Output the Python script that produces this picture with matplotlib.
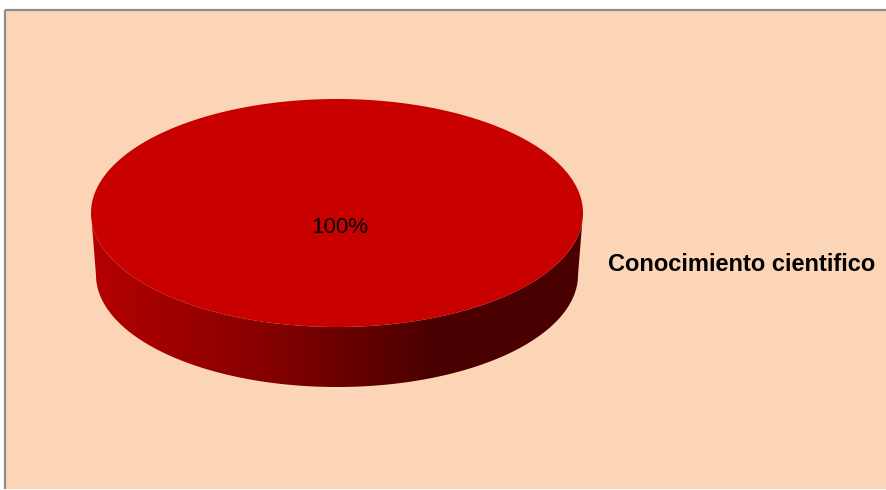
import numpy as np
import matplotlib
matplotlib.use("Agg")
import matplotlib.pyplot as plt
from matplotlib.patches import Polygon, Rectangle
from matplotlib.colors import LinearSegmentedColormap

plt.rcParams['font.family'] = ['Liberation Sans', 'DejaVu Sans']

# Data
categories = ["Conocimiento cientifico"]
values = [100]
top_colors = ["#C80000"]

W, H = 886, 490
fig = plt.figure(figsize=(W / 100, H / 100), dpi=100)
fig.patch.set_facecolor("white")
ax = fig.add_axes([0, 0, 1, 1])
ax.set_xlim(0, W)
ax.set_ylim(H, 0)
ax.axis("off")

# chart area: peach fill with grey top and left edges
ax.add_patch(Rectangle((5.5, 10.5), W, H - 11.5, facecolor="#FBD5B5",
                       edgecolor="none", zorder=0))
ax.plot([5.5, W], [10.5, 10.5], color="#8C8C8C", linewidth=1.6, zorder=0.5,
        solid_capstyle="butt")
ax.plot([5.5, 5.5], [10.5, H - 1], color="#8C8C8C", linewidth=1.6, zorder=0.5,
        solid_capstyle="butt")

# pie geometry (top face and bottom rim ellipses)
cx, cy, a, b = 337, 213, 246, 114
cy2, a2, b2 = 275, 241, 112

total = float(sum(values))
fracs = np.array(values, dtype=float) / total
starts = np.concatenate([[0], np.cumsum(fracs)[:-1]]) * 2 * np.pi
ends = np.cumsum(fracs) * 2 * np.pi

# side wall: visible front half (angles 0..pi in screen coordinates)
th = np.linspace(0, np.pi, 400)
top_edge = np.column_stack([cx + a * np.cos(th), cy + b * np.sin(th)])
bot_edge = np.column_stack([cx + a2 * np.cos(th), cy2 + b2 * np.sin(th)])
side_pts = np.vstack([top_edge, bot_edge[::-1]])
side = Polygon(side_pts, closed=True, facecolor="none", edgecolor="none")
ax.add_patch(side)

cmap = LinearSegmentedColormap.from_list(
    "side", [(0.0, "#B50000"), (0.35, "#860000"), (0.69, "#4B0000"), (1.0, "#4A0000")])
grad = np.linspace(0, 1, 512)[None, :]
x0, x1 = cx - a, cx + a
img = ax.imshow(grad, cmap=cmap, extent=(x0, x1, cy2 + b2 + 2, cy - 2),
                aspect="auto", zorder=1, interpolation="bilinear")
img.set_clip_path(side)

# top face wedges built from the data
for s, e, col in zip(starts, ends, top_colors):
    t = np.linspace(s, e, 600)
    pts = np.column_stack([cx + a * np.cos(t), cy + b * np.sin(t)])
    if e - s < 2 * np.pi - 1e-9:
        pts = np.vstack([[cx, cy], pts])
    ax.add_patch(Polygon(pts, closed=True, facecolor=col, edgecolor="none", zorder=2))
    mid = (s + e) / 2
    frac = (e - s) / (2 * np.pi)
    if frac >= 0.999:
        lx, ly = cx + 3, cy + 14
    else:
        lx, ly = cx + 0.6 * a * np.cos(mid), cy + 0.6 * b * np.sin(mid)
    ax.text(lx, ly, f"{frac * 100:.0f}%", ha="center", va="center",
            fontsize=16, color="black", zorder=3)

# legend entry
for i, name in enumerate(categories):
    ax.text(608, 264 + i * 30, name, ha="left", va="center",
            fontsize=17, fontweight="bold", color="black", zorder=3)

fig.savefig("out.png", dpi=100, facecolor=fig.get_facecolor())
